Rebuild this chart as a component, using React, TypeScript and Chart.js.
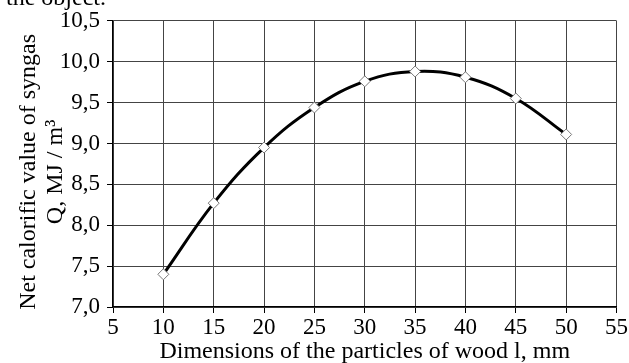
import React, { useEffect, useRef } from "react";
import { Chart, registerables } from "chart.js";

Chart.register(...registerables);

const particleSizes = [10, 15, 20, 25, 30, 35, 40, 45, 50];
const calorificValues = [7.4, 8.27, 8.95, 9.44, 9.76, 9.88, 9.81, 9.55, 9.11];
const xTitle = "Dimensions of the particles of wood l, mm";
const yTitleLine1 = "Net calorific value of syngas";
const yTitleLine2 = "Q, MJ / m³";
const topFragment = "se the object.";

const FONT = "'Liberation Serif', 'Times New Roman', serif";

const textPlugin = {
  id: "texts",
  afterDraw(chart: any) {
    const ctx = chart.ctx;
    const area = chart.chartArea;
    ctx.save();
    ctx.fillStyle = "#000";
    ctx.font = `24px ${FONT}`;
    // cropped fragment of surrounding page text
    ctx.textAlign = "right";
    ctx.textBaseline = "alphabetic";
    ctx.fillText(topFragment, 106, 5);
    // x title
    ctx.textAlign = "center";
    ctx.fillText(xTitle, (area.left + area.right) / 2, 357.5);
    // y title (rotated)
    const cy = (area.top + area.bottom) / 2 + 8;
    ctx.save();
    ctx.translate(35, cy);
    ctx.rotate(-Math.PI / 2);
    ctx.fillText(yTitleLine1, 0, 0);
    ctx.restore();
    ctx.save();
    ctx.translate(62, cy);
    ctx.rotate(-Math.PI / 2);
    ctx.fillText(yTitleLine2, 0, 0);
    ctx.restore();
    ctx.restore();
  },
};

export default function App() {
  const ref = useRef<HTMLCanvasElement>(null);
  useEffect(() => {
    if (!ref.current) return;
    const gridOpts: any = {
      color: "#444",
      borderDash: [2, 1],
      tickLength: 6,
      tickColor: "#000",
      tickBorderDash: [],
    };
    const chart = new Chart(ref.current, {
      type: "line",
      data: {
        datasets: [
          {
            data: particleSizes.map((x, i) => ({ x, y: calorificValues[i] })),
            borderColor: "#000",
            borderWidth: 3,
            tension: 0.4,
            pointStyle: "rectRot",
            pointRadius: 5.5,
            pointBackgroundColor: "#fff",
            pointBorderColor: "#777",
            pointBorderWidth: 1,
          },
        ],
      },
      options: {
        animation: false,
        responsive: false,
        maintainAspectRatio: false,
        layout: { padding: { top: 19, right: 9, left: 0, bottom: 0 } },
        plugins: { legend: { display: false }, tooltip: { enabled: false } },
        scales: {
          x: {
            type: "linear",
            min: 5,
            max: 55,
            ticks: {
              stepSize: 5,
              color: "#000",
              font: { family: FONT, size: 23 },
              padding: 1,
              maxRotation: 0,
            },
            grid: gridOpts,
            border: { color: "#000", width: 1.2 },
            afterFit(scale: any) {
              scale.height = 56;
            },
          },
          y: {
            type: "linear",
            min: 7,
            max: 10.5,
            ticks: {
              stepSize: 0.5,
              color: "#000",
              font: { family: FONT, size: 23 },
              padding: 7,
              callback: (v: any) => Number(v).toFixed(1).replace(".", ","),
            },
            grid: gridOpts,
            border: { color: "#000", width: 1.2 },
            afterFit(scale: any) {
              scale.width = 113;
            },
          },
        },
      },
      plugins: [textPlugin],
    });
    return () => chart.destroy();
  }, []);
  return (
    <div style={{ position: "absolute", left: 0, top: 0, width: 629, height: 363, background: "#fff" }}>
      <canvas ref={ref} width={629} height={363} style={{ width: 629, height: 363 }} />
    </div>
  );
}
